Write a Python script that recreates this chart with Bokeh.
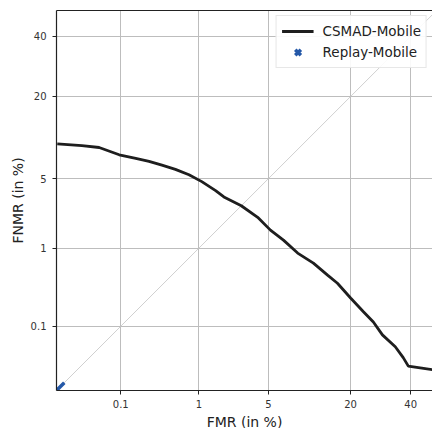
from statistics import NormalDist
from bokeh.plotting import figure
from bokeh.models import FixedTicker, LinearAxis, Range1d, Legend, LegendItem, ColumnDataSource
from bokeh.embed import file_html
from bokeh.resources import INLINE

# DET curve values (in %)
fmr = [0.0103, 0.026, 0.048, 0.095, 0.162, 0.245, 0.36, 0.53, 0.77, 1.08, 1.53, 1.87, 2.8, 4.0, 5.2, 6.7,
       8.7, 11.4, 14.3, 16.6, 20.0, 23.7, 26.8, 29.8, 34.3, 37.2, 39.1, 43.6, 48.3]
fnmr = [9.6, 9.3, 9.0, 7.9, 7.4, 7.0, 6.5, 6.0, 5.4, 4.7, 3.9, 3.4, 2.8, 2.15, 1.58, 1.23,
        0.88, 0.67, 0.48, 0.38, 0.245, 0.16, 0.115, 0.075, 0.050, 0.034, 0.025, 0.0235, 0.022]
replay_fmr = [0.01]
replay_fnmr = [0.01]
diag = [0.01, 50.0]
ticks_pct = [0.1, 1, 5, 20, 40]
tick_labels = ["0.1", "1", "5", "20", "40"]
x_lim = [0.01, 48.4]
y_lim = [0.01, 50.0]

nd = NormalDist()
def pr(v):
    return nd.inv_cdf(v / 100.0)

FONT = "DejaVu Sans"
BLUE = "#2458a8"

p = figure(frame_width=376, frame_height=380,
           output_backend="svg", toolbar_location=None,
           x_range=Range1d(pr(x_lim[0]), pr(x_lim[1])),
           y_range=Range1d(pr(y_lim[0]), pr(y_lim[1])),
           min_border_left=56, min_border_right=0, min_border_top=10, min_border_bottom=37)
p.outline_line_color = None
p.background_fill_color = "white"

tk = [pr(t) for t in ticks_pct]
overrides = {pr(t): l for t, l in zip(ticks_pct, tick_labels)}
for ax in (p.xaxis[0], p.yaxis[0]):
    ax.ticker = FixedTicker(ticks=tk)
    ax.major_label_overrides = overrides
    ax.minor_tick_line_color = None
    ax.major_tick_in = 0
    ax.major_tick_out = 4
    ax.major_label_text_font = FONT
    ax.major_label_text_font_size = "10px"
    ax.major_label_text_color = "#333333"
    ax.axis_label_text_font = FONT
    ax.axis_label_text_font_size = "14px"
    ax.axis_label_text_font_style = "normal"
    ax.axis_label_text_color = "#222222"
    ax.axis_line_color = "#222222"
    ax.axis_line_width = 1.2
    ax.major_tick_line_color = "#222222"
p.xaxis.axis_label = "FMR (in %)"
p.yaxis.axis_label = "FNMR (in %)"
p.xaxis.major_label_standoff = 5
p.xaxis.axis_label_standoff = 3
p.yaxis.major_label_standoff = 6
p.yaxis.axis_label_standoff = 2

top = LinearAxis(ticker=FixedTicker(ticks=[]), axis_line_color="#222222", axis_line_width=1.2,
                 major_tick_line_color=None, minor_tick_line_color=None,
                 major_label_text_font_size="0px")
p.add_layout(top, "above")

for g in (p.xgrid[0], p.ygrid[0]):
    g.ticker = FixedTicker(ticks=tk)
    g.grid_line_color = "#bdbdbd"
    g.grid_line_width = 1.0

p.line([pr(v) for v in diag], [pr(v) for v in diag], line_color="#c4c4c4", line_width=0.8)

src = ColumnDataSource(dict(x=[pr(v) for v in fmr], y=[pr(v) for v in fnmr]))
r1 = p.line("x", "y", source=src, line_color="#1e1e1e", line_width=2.8)
r2 = p.scatter([pr(v) for v in replay_fmr], [pr(v) for v in replay_fnmr], marker="x",
               size=22, line_color=BLUE, line_width=3.5)

legend = Legend(items=[LegendItem(label="CSMAD-Mobile", renderers=[r1]),
                       LegendItem(label="Replay-Mobile", renderers=[r2])],
                location="top_right", margin=5, padding=5, spacing=1,
                glyph_width=32, glyph_height=20, label_height=20, label_standoff=9,
                label_text_font=FONT, label_text_font_size="13.5px", label_text_color="#222222",
                border_line_color="#d0d0d0", border_line_width=1,
                background_fill_alpha=0.9)
p.add_layout(legend)

open("out.html", "w").write(file_html(p, INLINE))
